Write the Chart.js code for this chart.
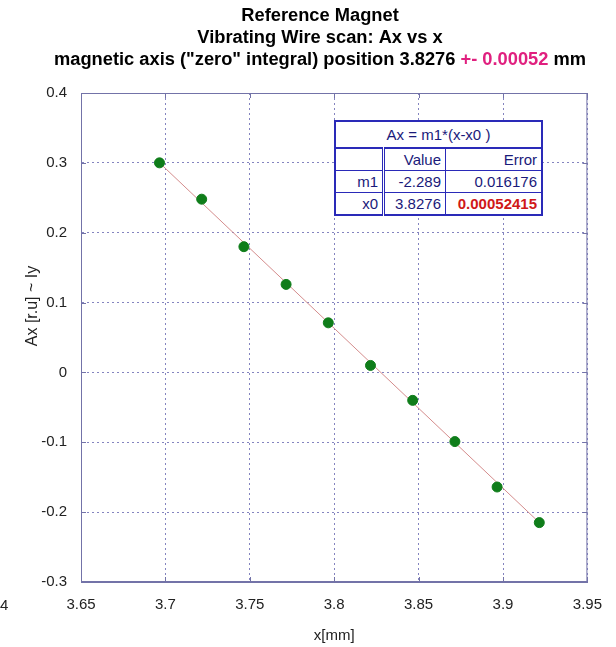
<!DOCTYPE html>
<html>
<head>
<meta charset="utf-8">
<script src="https://cdn.jsdelivr.net/npm/chart.js@4.4.1/dist/chart.umd.min.js"></script>
<style>
  html, body { margin: 0; padding: 0; background: #ffffff; }
  #wrap { position: relative; width: 616px; height: 647px; }
  #grafico { position: absolute; left: 0; top: 0; }
  #tabelaFit {
    position: absolute; left: 334px; top: 120px;
    border-collapse: collapse; background: #ffffff;
    border: 2px solid #2a2ab8;
    font-family: "Liberation Sans", Arial, sans-serif; font-size: 15px; color: #1a1a7a;
  }
  #tabelaFit td { border: 1px solid #2a2ab8; padding: 0 4px; text-align: right; height: 21px; line-height: 18px; }
  #tabelaFit td.titulo { text-align: center; height: 25px; border-bottom: 2px solid #2a2ab8; }
  #tabelaFit td.col1 { border-right: 3px double #2a2ab8; width: 38px; }
  #tabelaFit td.col2 { width: 52px; }
  #tabelaFit td.col3 { width: 87px; }
  #tabelaFit td.erro { color: #d01818; font-weight: bold; }
</style>
</head>
<body>
<div id="wrap">
  <canvas id="grafico" width="616" height="647"></canvas>
  <table id="tabelaFit">
    <tr><td class="titulo" colspan="3">Ax = m1*(x-x0 )</td></tr>
    <tr><td class="col1"></td><td class="col2">Value</td><td class="col3">Error</td></tr>
    <tr><td class="col1">m1</td><td class="col2">-2.289</td><td class="col3">0.016176</td></tr>
    <tr><td class="col1">x0</td><td class="col2">3.8276</td><td class="col3 erro">0.00052415</td></tr>
  </table>
</div>
<script>
// wire positions [mm] and measured Ax
const posicoes = [3.6965, 3.7215, 3.7465, 3.7715, 3.7965, 3.8215, 3.8465, 3.8715, 3.8965, 3.9215];
const valoresAx = [0.300, 0.248, 0.180, 0.126, 0.071, 0.010, -0.040, -0.099, -0.164, -0.215];

// linear fit Ax = m1*(x-x0), drawn over the scanned range
const m1 = -2.289;
const x0 = 3.8276;
const fitXs = [posicoes[0], posicoes[posicoes.length - 1]];

const xTicks = [3.65, 3.7, 3.75, 3.8, 3.85, 3.9, 3.95];
const yTicks = [-0.3, -0.2, -0.1, 0, 0.1, 0.2, 0.3, 0.4];

const titulo = ["Reference Magnet", "Vibrating Wire scan: Ax vs x"];
const tituloLinha3 = ["magnetic axis (\"zero\" integral) position 3.8276 ", "+- 0.00052", " mm"];
const tituloY = "Ax [r.u] ~ Iy";

const FONTE = '"Liberation Sans", Arial, sans-serif';
const AZUL_EIXO = "#7373a8";

const pontos = posicoes.map((x, i) => ({ x, y: valoresAx[i] }));
const linhaFit = fitXs.map(x => ({ x, y: m1 * (x - x0) }));

// title lines (last one with the error in magenta) and the y axis label
const tituloPlugin = {
  id: "tituloPlugin",
  afterDraw(chart) {
    const ctx = chart.ctx;
    const cx = 320;
    ctx.save();
    ctx.font = "bold 18.3px " + FONTE;
    ctx.textBaseline = "middle";
    ctx.textAlign = "center";
    ctx.fillStyle = "#000000";
    titulo.forEach((t, i) => ctx.fillText(t, cx, 16 + i * 22));
    const larguras = tituloLinha3.map(t => ctx.measureText(t).width);
    let x = cx - larguras.reduce((a, b) => a + b, 0) / 2;
    ctx.textAlign = "left";
    tituloLinha3.forEach((t, i) => {
      ctx.fillStyle = i === 1 ? "#e0207f" : "#000000";
      ctx.fillText(t, x, 60);
      x += larguras[i];
    });

    // y label sits a bit above the middle of the axis
    ctx.save();
    ctx.translate(33, 306);
    ctx.rotate(-Math.PI / 2);
    ctx.textAlign = "center";
    ctx.font = "16px " + FONTE;
    ctx.fillStyle = "#222222";
    ctx.fillText(tituloY, 0, 0);
    ctx.restore();

    // label cut off at the left edge
    ctx.font = "15px " + FONTE;
    ctx.fillStyle = "#222222";
    ctx.fillText("4", 0, 606);
    ctx.restore();
  }
};

// closed frame around the plot area with short inward ticks
const molduraPlugin = {
  id: "molduraPlugin",
  beforeDatasetsDraw(chart) {
    const { ctx, chartArea: a, scales } = chart;
    const t = 5;
    ctx.save();
    ctx.strokeStyle = AZUL_EIXO;
    ctx.lineWidth = 1;
    ctx.strokeRect(a.left + 0.5, a.top + 0.5, a.right - a.left - 1, a.bottom - a.top - 1);
    ctx.beginPath();
    yTicks.forEach(v => {
      const py = Math.round(scales.y.getPixelForValue(v)) + 0.5;
      ctx.moveTo(a.left, py); ctx.lineTo(a.left + t, py);
      ctx.moveTo(a.right, py); ctx.lineTo(a.right - t, py);
    });
    xTicks.forEach(v => {
      const px = Math.round(scales.x.getPixelForValue(v)) + 0.5;
      ctx.moveTo(px, a.bottom); ctx.lineTo(px, a.bottom - t);
      ctx.moveTo(px, a.top); ctx.lineTo(px, a.top + t);
    });
    ctx.stroke();
    ctx.restore();
  }
};

const fmt = v => String(Number(v.toFixed(3)));

new Chart(document.getElementById("grafico"), {
  type: "scatter",
  data: {
    datasets: [
      {
        label: "Ax",
        data: pontos,
        backgroundColor: "#0f7d1a",
        borderColor: "#0f7d1a",
        pointRadius: 5,
        order: 0
      },
      {
        label: "fit",
        type: "line",
        data: linhaFit,
        borderColor: "#d48c8c",
        borderWidth: 1,
        pointRadius: 0,
        fill: false,
        order: 1
      }
    ]
  },
  options: {
    responsive: false,
    animation: false,
    layout: { padding: { left: 0, right: 27, top: 93, bottom: 0 } },
    plugins: {
      legend: { display: false },
      tooltip: { enabled: false }
    },
    scales: {
      x: {
        type: "linear",
        min: 3.65,
        max: 3.95,
        afterBuildTicks: s => { s.ticks = xTicks.map(value => ({ value })); },
        afterFit: s => { s.height = 65; },
        ticks: {
          callback: v => fmt(v),
          color: "#222222",
          font: { family: FONTE, size: 15 },
          padding: 14,
          maxRotation: 0
        },
        grid: { color: "#8484bf", lineWidth: 1, drawTicks: false },
        border: { color: AZUL_EIXO, width: 1, dash: [2, 3] },
        title: {
          display: true,
          text: "x[mm]",
          color: "#222222",
          font: { family: FONTE, size: 15 },
          padding: { top: 8, bottom: 2 }
        }
      },
      y: {
        type: "linear",
        min: -0.3,
        max: 0.4,
        afterBuildTicks: s => { s.ticks = yTicks.map(value => ({ value })); },
        afterFit: s => { s.width = 81; },
        ticks: {
          callback: v => fmt(v),
          color: "#222222",
          font: { family: FONTE, size: 15 },
          padding: 14
        },
        grid: { color: "#8484bf", lineWidth: 1, drawTicks: false },
        border: { color: AZUL_EIXO, width: 1, dash: [2, 3] }
      }
    }
  },
  plugins: [tituloPlugin, molduraPlugin]
});
</script>
</body>
</html>
